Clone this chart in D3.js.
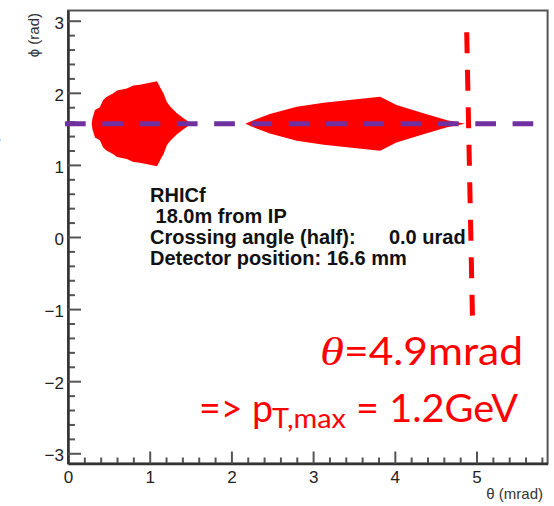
<!DOCTYPE html>
<html lang="en">
<head>
  <meta charset="utf-8">
  <title>RHICf acceptance</title>
  <style>
    html,body { margin:0; padding:0; background:#fff; }
    svg { display:block; }
  </style>
  <script src="https://d3js.org/d3.v7.min.js"></script>
</head>
<body>
<svg></svg>
<script>
// axis ranges and ticks
const xDomain = [0, 5.87];
const yDomain = [-3.1416, 3.1416];
const xTicks = [0, 1, 2, 3, 4, 5];
const yTicks = [-3, -2, -1, 0, 1, 2, 3];

// acceptance shapes: theta (mrad) and half width in phi around phi0
const phi0 = 1.571;
const theta1 = [0.29, 0.30, 0.33, 0.39, 0.43, 0.47, 0.55, 0.60, 0.72, 0.80, 0.88, 1.00, 1.09, 1.13, 1.17, 1.21, 1.25, 1.33, 1.41, 1.51];
const dphi1  = [0.00, 0.08, 0.19, 0.23, 0.33, 0.37, 0.42, 0.46, 0.49, 0.53, 0.54, 0.57, 0.59, 0.50, 0.42, 0.30, 0.24, 0.15, 0.08, 0.00];
const theta2 = [2.17, 2.27, 2.47, 2.80, 3.13, 3.53, 3.82, 3.90, 4.02, 4.35, 4.64, 4.86];
const dphi2  = [0.00, 0.05, 0.135, 0.235, 0.29, 0.34, 0.375, 0.33, 0.26, 0.145, 0.05, 0.00];

// overlay lines
const hlineTheta = [-0.037, 5.716];
const hlinePhi = [1.571, 1.571];
const vlineTheta = [4.88, 4.95];
const vlinePhi = [2.84, -1.09];

const infoLines = ["RHICf", " 18.0m from IP", "Crossing angle (half):      0.0 urad", "Detector position: 16.6 mm"];

const width = 554, height = 506;
const svg = d3.select("svg").attr("width", width).attr("height", height);

const x = d3.scaleLinear().domain(xDomain).range([68, 547.6]);
const y = d3.scaleLinear().domain(yDomain).range([463.5, 10.5]);

const font = "'Liberation Sans', Arial, Helvetica, sans-serif";

// frame
svg.append("rect")
  .attr("x", x.range()[0]).attr("y", y.range()[1])
  .attr("width", x.range()[1] - x.range()[0])
  .attr("height", y.range()[0] - y.range()[1])
  .attr("fill", "none").attr("stroke", "#555").attr("stroke-width", 2);

// red acceptance regions
const area = d3.area()
  .x(d => x(d[0]))
  .y0(d => y(phi0 - d[1]))
  .y1(d => y(phi0 + d[1]));

[[theta1, dphi1], [theta2, dphi2]].forEach(([t, w]) => {
  svg.append("path")
    .datum(d3.zip(t, w))
    .attr("d", area)
    .attr("fill", "#ff0000");
});

// axes
const minorX = d3.range(0, xDomain[1], 0.2).filter(v => Math.abs(v - Math.round(v)) > 1e-6);
const minorY = d3.range(-3, 3.01, 0.2).filter(v => Math.abs(v - Math.round(v)) > 1e-6);

function styleAxis(g) {
  g.select(".domain").attr("stroke", "#333").attr("stroke-width", 2.5);
  g.selectAll(".tick line").attr("stroke", "#555").attr("stroke-width", 2);
  g.selectAll(".tick text").attr("fill", "#222").attr("font-size", 17).attr("font-family", font);
}

svg.append("g").attr("transform", `translate(0,${y.range()[0]})`)
  .call(d3.axisBottom(x).tickValues(minorX).tickSize(-6).tickFormat(""))
  .call(g => g.select(".domain").remove())
  .call(g => g.selectAll(".tick line").attr("stroke", "#555").attr("stroke-width", 2));

svg.append("g").attr("transform", `translate(${x.range()[0]},0)`)
  .call(d3.axisLeft(y).tickValues(minorY).tickSize(-7).tickFormat(""))
  .call(g => g.select(".domain").remove())
  .call(g => g.selectAll(".tick line").attr("stroke", "#555").attr("stroke-width", 2));

svg.append("g").attr("transform", `translate(0,${y.range()[0]})`)
  .call(d3.axisBottom(x).tickValues(xTicks).tickSize(-12).tickSizeOuter(0).tickPadding(7).tickFormat(d3.format("d")))
  .call(styleAxis);

svg.append("g").attr("transform", `translate(${x.range()[0]},0)`)
  .call(d3.axisLeft(y).tickValues(yTicks).tickSize(-13).tickSizeOuter(0).tickPadding(4).tickFormat(d3.format("d")))
  .call(styleAxis)
  .call(g => g.selectAll(".tick text").attr("dy", "0.43em"));

// axis titles
svg.append("text")
  .attr("transform", "translate(39,13) rotate(-90)")
  .attr("text-anchor", "end")
  .attr("font-family", font).attr("font-size", 15).attr("fill", "#333")
  .text("ϕ (rad)");

svg.append("text")
  .attr("x", 543).attr("y", 499)
  .attr("text-anchor", "end")
  .attr("font-family", font).attr("font-size", 15).attr("fill", "#333")
  .text("θ (mrad)");

// info text
svg.append("g").selectAll("text")
  .data(infoLines)
  .join("text")
  .attr("x", 150)
  .attr("y", (d, i) => 201.7 + i * 21)
  .attr("font-family", font).attr("font-size", 20).attr("font-weight", "bold")
  .attr("fill", "#111")
  .style("white-space", "pre")
  .text(d => d);

// dashed overlay lines
const line = d3.line().x(d => x(d[0])).y(d => y(d[1]));

svg.append("path")
  .datum(d3.zip(hlineTheta, hlinePhi))
  .attr("d", line)
  .attr("fill", "none").attr("stroke", "#7030a0").attr("stroke-width", 5)
  .attr("stroke-dasharray", "20.7,16.6");

svg.append("path")
  .datum(d3.zip(vlineTheta, vlinePhi))
  .attr("d", line)
  .attr("fill", "none").attr("stroke", "#ff0000").attr("stroke-width", 5)
  .attr("stroke-dasharray", "21,16.5");

// cut-off purple glyph at left edge
svg.append("text")
  .attr("x", -4).attr("y", 151)
  .attr("font-family", font).attr("font-size", 16).attr("font-weight", "bold")
  .attr("fill", "#7030a0")
  .text("/");

// red annotations
const annFont = "Lato, 'Open Sans', sans-serif";
function ann(txt, x0, x1, yb, size, fam, italic) {
  svg.append("text")
    .attr("x", x0).attr("y", yb)
    .attr("font-family", fam).attr("font-size", size)
    .attr("font-style", italic ? "italic" : "normal")
    .attr("fill", "#ff0000")
    .attr("textLength", x1 - x0).attr("lengthAdjust", "spacingAndGlyphs")
    .style("white-space", "pre")
    .text(txt);
}
ann("θ", 320, 344, 365, 40, "'Liberation Serif', serif", true);
ann("=4.9mrad", 344, 523, 365, 39, annFont, false);
ann("=> p", 199, 273, 421.7, 39, annFont, false);
ann("T,max", 272, 346, 428, 26, annFont, false);
ann("= 1.2GeV", 356, 518, 421.7, 39, annFont, false);
</script>
</body>
</html>
